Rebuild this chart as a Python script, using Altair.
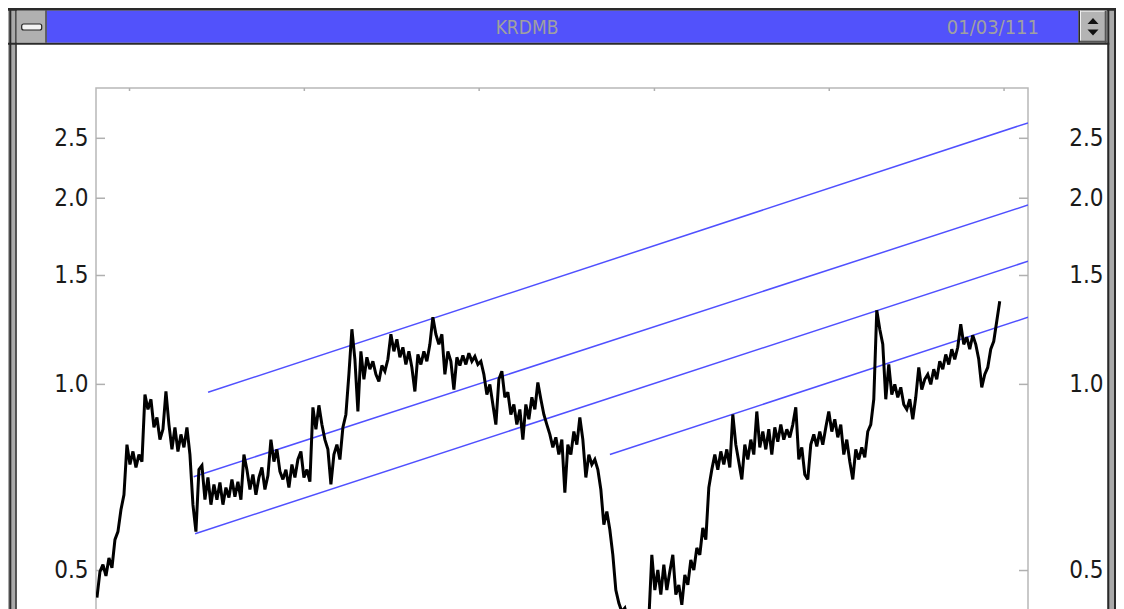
import altair as alt
import pandas as pd

# ---------------- data ----------------
price_start = "2005-10-25"
price_end = "2010-12-23"
price = [
    0.452, 0.498, 0.511, 0.490, 0.524, 0.505, 0.561, 0.578, 0.627, 0.663,
    0.799, 0.742, 0.779, 0.734, 0.770, 0.750, 0.963, 0.911, 0.946, 0.852,
    0.884, 0.814, 0.846, 0.974, 0.861, 0.785, 0.852, 0.779, 0.830, 0.791,
    0.852, 0.770, 0.639, 0.578, 0.728, 0.739, 0.651, 0.707, 0.639, 0.689,
    0.651, 0.694, 0.639, 0.681, 0.656, 0.702, 0.658, 0.696, 0.651, 0.770,
    0.728, 0.676, 0.715, 0.663, 0.707, 0.734, 0.676, 0.712, 0.814, 0.750,
    0.785, 0.723, 0.702, 0.728, 0.681, 0.742, 0.707, 0.756, 0.779, 0.707,
    0.728, 0.696, 0.918, 0.846, 0.925, 0.861, 0.814, 0.785, 0.689, 0.770,
    0.799, 0.756, 0.852, 0.894, 1.038, 1.228, 1.098, 0.904, 1.131, 1.019,
    1.106, 1.058, 1.090, 1.038, 1.011, 1.073, 1.050, 1.098, 1.205, 1.131,
    1.183, 1.106, 1.148, 1.077, 1.131, 1.065, 0.974, 1.118, 1.077, 1.131,
    1.090, 1.161, 1.284, 1.205, 1.161, 1.205, 1.038, 1.131, 1.090, 0.981,
    1.106, 1.073, 1.114, 1.077, 1.123, 1.090, 1.110, 1.077, 1.090, 1.038,
    0.963, 1.000, 0.928, 0.861, 1.019, 1.050, 0.953, 0.971, 0.894, 0.928,
    0.861, 0.911, 0.814, 0.928, 0.878, 0.953, 0.911, 1.007, 0.946, 0.894,
    0.861, 0.830, 0.791, 0.821, 0.770, 0.814, 0.668, 0.799, 0.770, 0.839,
    0.799, 0.884, 0.814, 0.707, 0.770, 0.742, 0.756, 0.728, 0.676, 0.593,
    0.623, 0.582, 0.530, 0.465, 0.443, 0.429, 0.435, 0.416, 0.401, 0.386,
    0.379, 0.386, 0.372, 0.393, 0.416, 0.530, 0.465, 0.501, 0.457, 0.511,
    0.465, 0.498, 0.530, 0.457, 0.474, 0.440, 0.492, 0.474, 0.520, 0.501,
    0.544, 0.530, 0.586, 0.561, 0.681, 0.728, 0.770, 0.728, 0.779, 0.742,
    0.785, 0.734, 0.894, 0.799, 0.750, 0.702, 0.799, 0.756, 0.814, 0.770,
    0.904, 0.791, 0.839, 0.785, 0.846, 0.770, 0.852, 0.808, 0.861, 0.814,
    0.846, 0.821, 0.861, 0.918, 0.756, 0.791, 0.715, 0.702, 0.799, 0.830,
    0.794, 0.839, 0.799, 0.852, 0.904, 0.839, 0.878, 0.821, 0.861, 0.770,
    0.814, 0.750, 0.702, 0.785, 0.756, 0.791, 0.762, 0.839, 0.861, 0.946,
    1.318, 1.228, 1.161, 0.946, 1.077, 0.963, 1.000, 0.953, 0.989, 0.928,
    0.911, 0.946, 0.878, 0.953, 1.065, 0.981, 1.019, 1.038, 1.000, 1.058,
    1.019, 1.090, 1.058, 1.118, 1.077, 1.140, 1.098, 1.148, 1.251, 1.161,
    1.192, 1.140, 1.201, 1.161, 1.098, 0.989, 1.038, 1.065, 1.140, 1.174,
    1.265, 1.363,
]

trend_id = ["a", "a", "b", "b", "c", "c", "d", "d"]
trend_date = ["2006-06-14", "2011-02-20", "2006-05-15", "2011-02-20",
              "2006-05-18", "2011-02-20", "2008-09-30", "2011-02-20"]
trend_value = [0.971, 2.648, 0.709, 1.950, 0.5735, 1.582, 0.770, 1.284]

y_ticks = [0.5, 1.0, 1.5, 2.0, 2.5]
year_ticks = ["2006-01-01", "2007-01-01", "2008-01-01",
              "2009-01-01", "2010-01-01", "2011-01-01"]

title_text = "KRDMB"
date_text = "01/03/111"

# ---------------- styling ----------------
FONT = "Liberation Sans Narrow, DejaVu Sans Condensed, Liberation Sans, sans-serif"
W, H = 932, 530
GRAY = "#a9a9a9"
DARK = "#2a2a2a"
BLUE = "#5252fb"
FRAME = "#b8b8b8"

x_scale = alt.Scale(domain=[alt.DateTime(year=2005, month=10, date=23),
                            alt.DateTime(year=2011, month=2, date=20)])
y_scale = alt.Scale(type="log", domain=[0.419, 3.015], nice=False)

price_df = pd.DataFrame({
    "date": pd.date_range(price_start, price_end, periods=len(price)),
    "value": price,
})
trend_df = pd.DataFrame({
    "line": trend_id,
    "date": pd.to_datetime(trend_date),
    "value": trend_value,
})
tick_df = pd.DataFrame({"value": y_ticks})
year_df = pd.DataFrame({"date": pd.to_datetime(year_ticks)})
one = pd.DataFrame({"k": [0]})


def box(x1, x2, y1, y2, fill, **kw):
    return alt.Chart(one).mark_rect(fill=fill, **kw).encode(
        x=alt.value(x1), x2=alt.value(x2), y=alt.value(y1), y2=alt.value(y2))


def label(txt, x, y, align, size, color):
    return alt.Chart(one).mark_text(
        text=txt, align=align, baseline="middle", fontSize=size,
        font=FONT, color=color).encode(x=alt.value(x), y=alt.value(y))


# ---------------- window frame (plot-relative pixel coords) ----------------
decor = [
    # left border
    box(-88, -79.3, -80, H, GRAY),
    box(-86.7, -84.7, -80, H, DARK),
    box(-80.7, -79.3, -80, H, DARK),
    # right border
    box(1011.3, 1020, -80, H, GRAY),
    box(1011.3, 1013.3, -80, H, DARK),
    box(1018, 1020, -80, H, DARK),
    # top line
    box(-88, 1020, -80, -77.3, DARK),
    # title bar
    box(-49.3, 982.3, -77.3, -45.3, BLUE),
    # left button
    box(-79.3, -50.7, -77.3, -45.3, "#b0b0b0"),
    box(-50.7, -49.3, -77.3, -45.3, DARK),
    alt.Chart(one).mark_rect(fill="#f4f4f4", stroke="#222", strokeWidth=1.2,
                             cornerRadius=2).encode(
        x=alt.value(-74.3), x2=alt.value(-54.3),
        y=alt.value(-64), y2=alt.value(-58)),
    # right button
    box(982.3, 984, -77.3, -45.3, DARK),
    box(984, 1010.7, -77.3, -45.3, "#b4b4b4"),
    box(984, 1010.7, -77.3, -76.3, "#f0f0f0"),
    box(984, 985, -77.3, -45.3, "#f0f0f0"),
    box(1008.7, 1010.7, -77.3, -45.3, "#555555"),
    box(984, 1010.7, -47.3, -45.3, "#555555"),
    alt.Chart(one).mark_point(shape="M-1,0.55L0,-0.55L1,0.55Z", filled=True,
                              color="#111", size=121, opacity=1).encode(
        x=alt.value(997), y=alt.value(-67)),
    alt.Chart(one).mark_point(shape="M-1,-0.55L0,0.55L1,-0.55Z", filled=True,
                              color="#111", size=121, opacity=1).encode(
        x=alt.value(997), y=alt.value(-55.5)),
    # bottom line of title bar
    box(-88, 1013.3, -45.3, -43.3, DARK),
    # title texts
    label(title_text, 431, -60, "center", 19, "#a0a0a0"),
    label(date_text, 943, -60, "right", 20, "#a0a0a0"),
]

# ---------------- data layers ----------------
left_axis = alt.Chart(tick_df).mark_rule(color="#b0b0b0", strokeWidth=1.5).encode(
    y=alt.Y("value:Q", scale=y_scale,
            axis=alt.Axis(orient="left", values=y_ticks, format=".1f",
                          ticks=False, tickSize=0, domain=False, grid=False,
                          labelPadding=8, labelFont=FONT, labelFontSize=24,
                          labelColor="#1a1a1a", title=None)),
    x=alt.value(0), x2=alt.value(9))

right_axis = alt.Chart(tick_df).mark_rule(color="#b0b0b0", strokeWidth=1.5).encode(
    y=alt.Y("value:Q", scale=y_scale,
            axis=alt.Axis(orient="right", values=y_ticks, format=".1f",
                          ticks=False, tickSize=0, domain=False, grid=False,
                          labelPadding=75, labelAlign="right", labelFont=FONT,
                          labelFontSize=24, labelColor="#1a1a1a", title=None)),
    x=alt.value(W - 9), x2=alt.value(W))

top_ticks = alt.Chart(year_df).mark_rule(color="#b0b0b0", strokeWidth=1.5).encode(
    x=alt.X("date:T", scale=x_scale, axis=None),
    y=alt.value(0), y2=alt.value(3))

trend = alt.Chart(trend_df).mark_line(color="#5050ff", strokeWidth=1.5, clip=True).encode(
    x=alt.X("date:T", scale=x_scale, axis=None),
    y=alt.Y("value:Q", scale=y_scale, axis=None),
    detail="line:N")

price_line = alt.Chart(price_df).mark_line(
    color="black", strokeWidth=3, strokeJoin="miter", strokeMiterLimit=3,
    clip=True).encode(
    x=alt.X("date:T", scale=x_scale, axis=None),
    y=alt.Y("value:Q", scale=y_scale, axis=None))

chart = alt.layer(
    *decor, left_axis, right_axis, top_ticks, trend, price_line
).resolve_axis(y="independent").properties(
    width=W, height=H, autosize="none",
    padding={"left": 88, "top": 80, "right": 88, "bottom": 0},
    background="white",
).configure_view(stroke=FRAME, strokeWidth=1.5)

chart.save("out.html", embed_options={"renderer": "svg", "actions": False})
